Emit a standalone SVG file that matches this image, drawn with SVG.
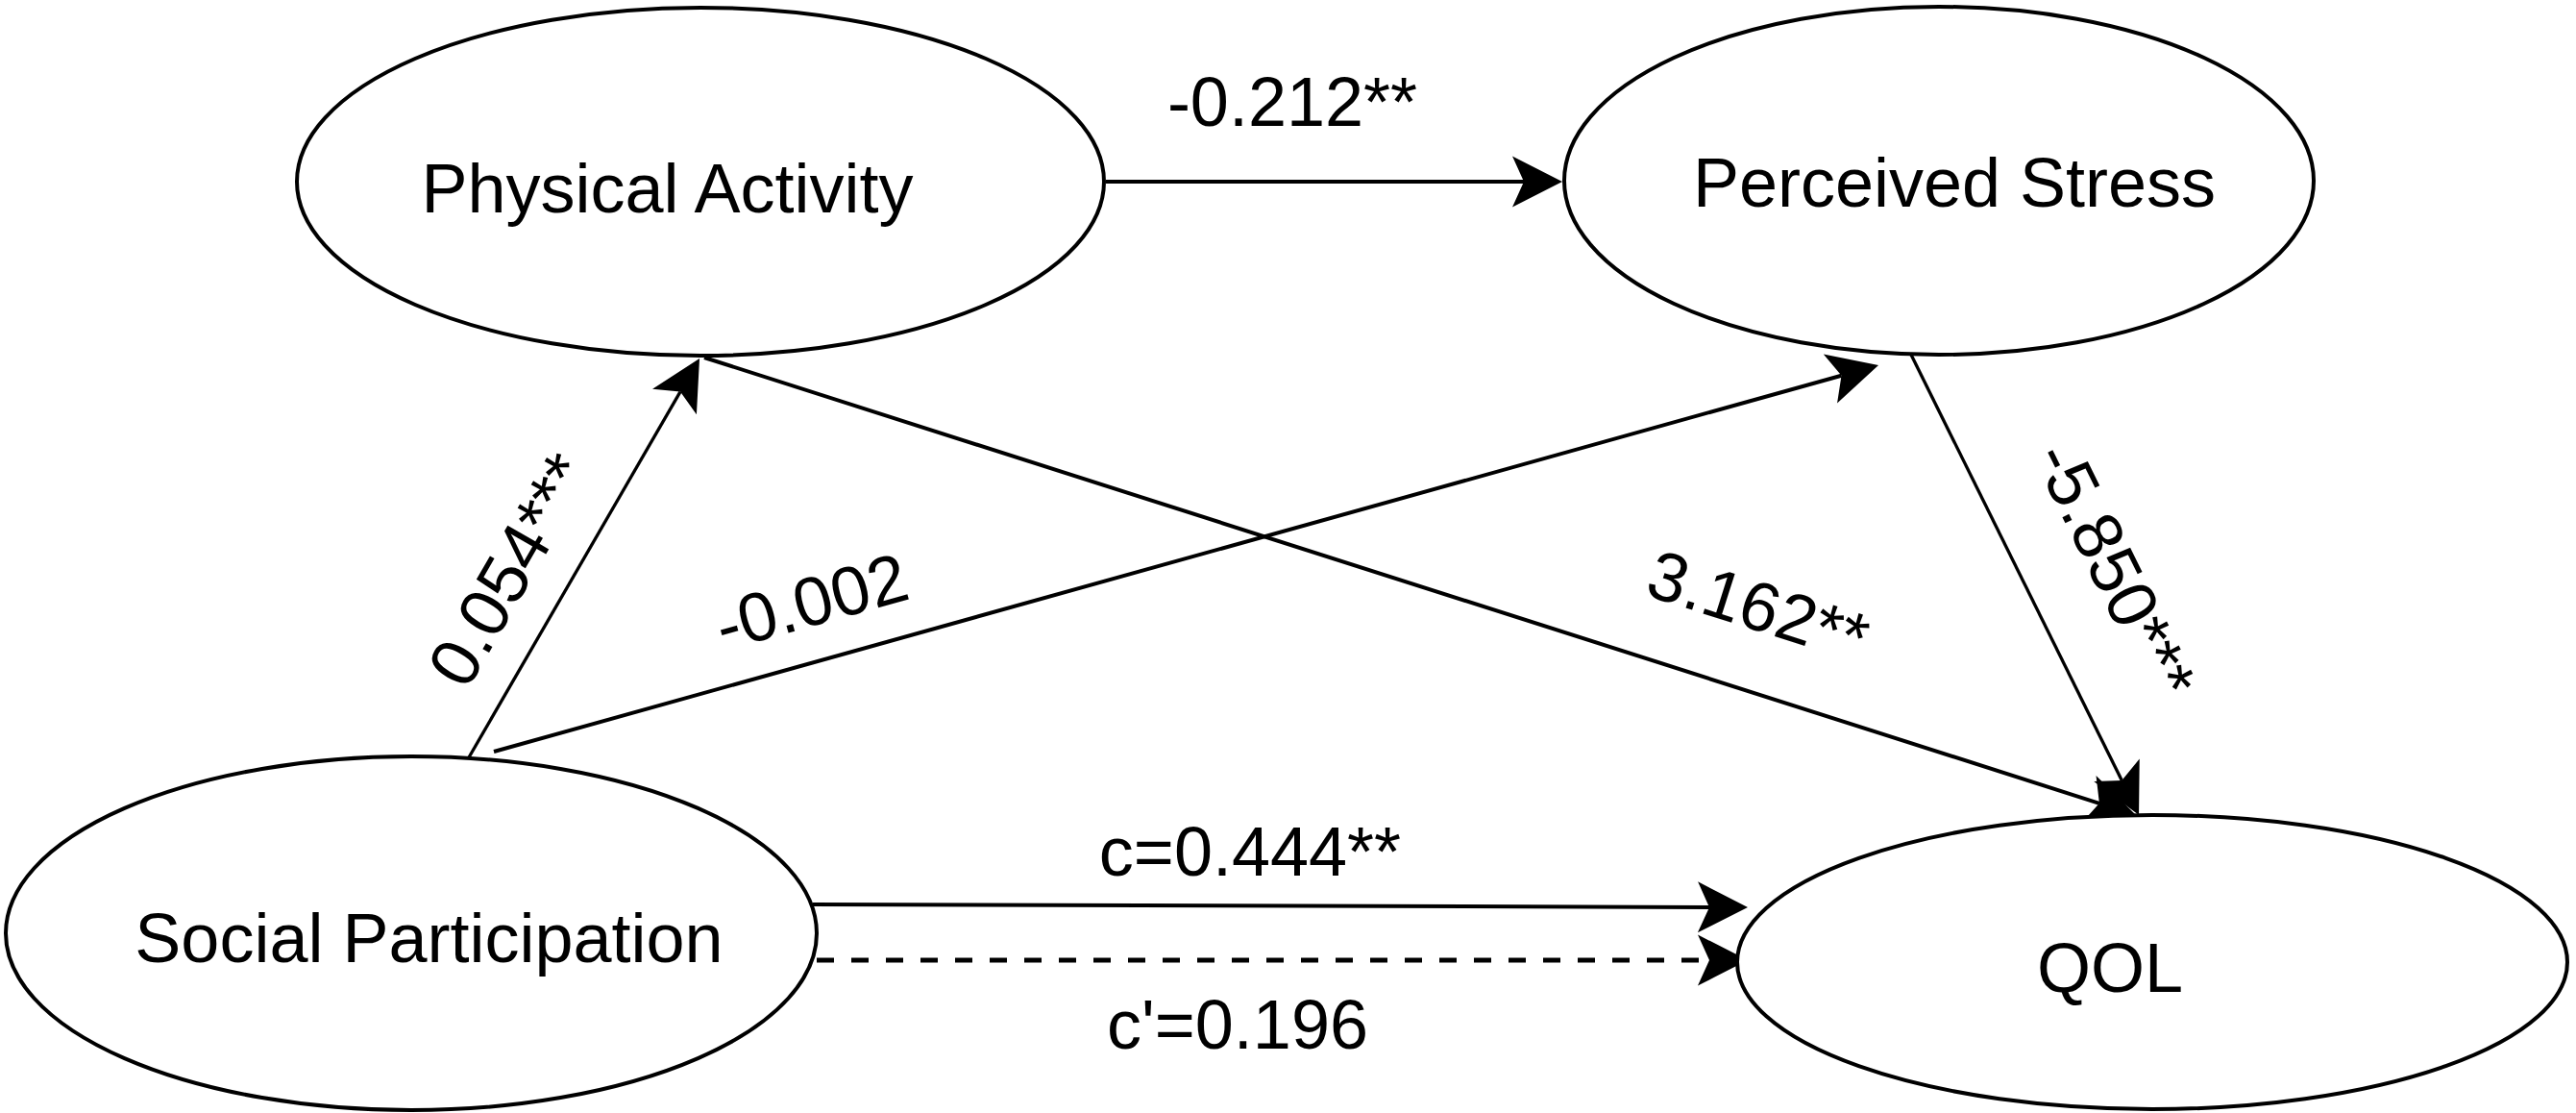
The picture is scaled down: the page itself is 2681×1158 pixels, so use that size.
<svg xmlns="http://www.w3.org/2000/svg" width="2681" height="1158" viewBox="0 0 2681 1158">
<style>
.node{fill:#ffffff;stroke:#000000;stroke-width:4}
.lbl{font-family:"Liberation Sans",Arial,sans-serif;font-size:72px;fill:#000000;text-anchor:middle}
.edge{fill:none;stroke:#000000;stroke-width:4}
.thin{stroke-width:3.3}
.dash{stroke-width:5;stroke-dasharray:18 18}
</style>
<defs>
<marker id="arr" markerUnits="userSpaceOnUse" viewBox="-14 -28 56 56" markerWidth="56" markerHeight="56" refX="0" refY="0" orient="auto">
<path d="M40,0 L-12,-26.5 L0,0 L-12,26.5 Z" fill="#000000"/>
</marker>
</defs>
<rect width="2681" height="1158" fill="#ffffff"/>
<g id="connectors">
<line class="edge" x1="1151" y1="189" x2="1586" y2="189" marker-end="url(#arr)"/>
<line class="edge thin" x1="488" y1="788" x2="708" y2="407.6" marker-end="url(#arr)"/>
<line class="edge" x1="514" y1="782" x2="1916.5" y2="390.7" marker-end="url(#arr)"/>
<line class="edge" x1="733" y1="372" x2="2184.9" y2="835.8" marker-end="url(#arr)"/>
<line class="edge thin" x1="1989" y1="369" x2="2208.3" y2="812.1" marker-end="url(#arr)"/>
<line class="edge" x1="846" y1="941" x2="1779" y2="943.9" marker-end="url(#arr)"/>
<line class="edge dash" x1="850" y1="999" x2="1779" y2="999" marker-end="url(#arr)"/>
<text class="lbl" x="1345" y="131">-0.212**</text>
<text class="lbl" transform="translate(551.8,605.1) rotate(-60)" x="0" y="0">0.054***</text>
<text class="lbl" transform="translate(851,650) rotate(-15.6)" x="0" y="0">-0.002</text>
<text class="lbl" transform="translate(1822.5,654.3) rotate(17.7)" x="0" y="0">3.162**</text>
<text class="lbl" transform="translate(2179,604.1) rotate(63.7)" x="0" y="0">-5.850***</text>
<text class="lbl" x="1301" y="911">c=0.444**</text>
<text class="lbl" x="1288" y="1091">c'=0.196</text>
</g>
<g id="node-physical-activity">
<ellipse class="node" cx="729" cy="189" rx="420" ry="181"/>
<text class="lbl" x="694.5" y="221">Physical Activity</text>
</g>
<g id="node-perceived-stress">
<ellipse class="node" cx="2018" cy="188" rx="390" ry="181"/>
<text class="lbl" x="2034" y="215">Perceived Stress</text>
</g>
<g id="node-social-participation">
<ellipse class="node" cx="428" cy="971" rx="422" ry="184"/>
<text class="lbl" x="446.5" y="1001">Social Participation</text>
</g>
<g id="node-qol">
<ellipse class="node" cx="2240" cy="1001" rx="432" ry="153"/>
<text class="lbl" x="2196" y="1032">QOL</text>
</g>
</svg>
